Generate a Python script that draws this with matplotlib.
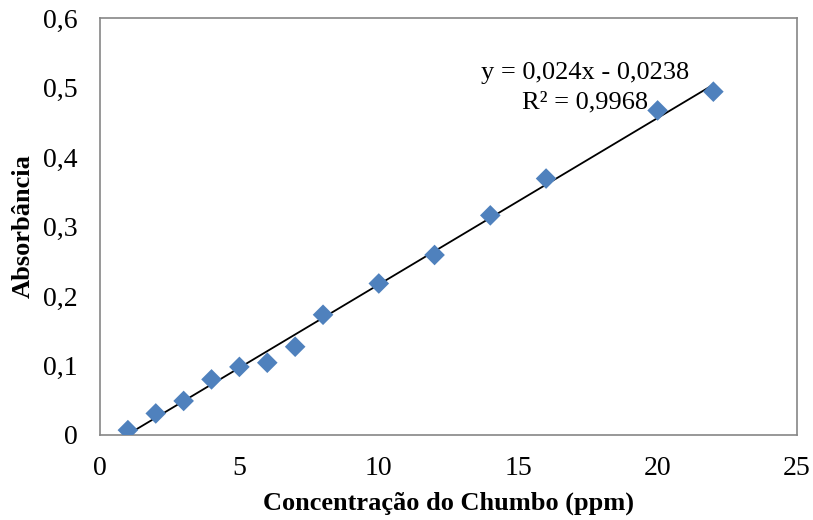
import numpy as np
import matplotlib
matplotlib.use("Agg")
import matplotlib.pyplot as plt

plt.rcParams['font.family'] = ['Liberation Serif', 'DejaVu Serif']

conc = [1, 2, 3, 4, 5, 6, 7, 8, 10, 12, 14, 16, 20, 22]
absorb = [0.007, 0.031, 0.049, 0.080, 0.098, 0.104, 0.127, 0.173, 0.218, 0.259, 0.316, 0.369, 0.467, 0.494]
x_ticks = [0, 5, 10, 15, 20, 25]
y_ticks = [0, 0.1, 0.2, 0.3, 0.4, 0.5, 0.6]
y_tick_labels = ['0', '0,1', '0,2', '0,3', '0,4', '0,5', '0,6']
eq_text = "y = 0,024x - 0,0238\nR² = 0,9968"

fig = plt.figure(figsize=(8.13, 5.2), dpi=100)
ax = fig.add_axes([100/813, 1-435/520, 697/813, 417/520])

slope, intercept = np.polyfit(conc, absorb, 1)
xs = np.array([min(conc), max(conc)])
ax.plot(xs, slope*xs + intercept, color='black', lw=1.3, zorder=2)
ax.scatter(conc, absorb, marker='D', s=10.5**2, color='#4F81BD', edgecolors='none', zorder=3)

ax.set_xlim(0, 25)
ax.set_ylim(0, 0.6)
ax.set_xticks(x_ticks)
ax.set_xticklabels([str(v) for v in x_ticks])
ax.set_yticks(y_ticks)
ax.set_yticklabels(y_tick_labels)
ax.tick_params(length=0, labelsize=20)
ax.tick_params(axis='y', pad=16)
ax.tick_params(axis='x', pad=15)
for s in ax.spines.values():
    s.set_color('#868686')
    s.set_linewidth(1.2)

ax.set_xlabel('Concentração do Chumbo (ppm)', fontsize=19, fontweight='bold', labelpad=8)
ax.set_ylabel('Absorbância', fontsize=19, fontweight='bold', labelpad=6)

ax.text(17.4, 0.500, eq_text, fontsize=19, ha='center', va='center', linespacing=1.45, zorder=4)

fig.savefig('out.png', dpi=100)
